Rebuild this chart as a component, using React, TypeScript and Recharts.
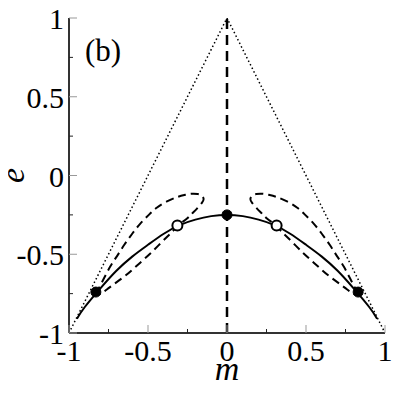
import { ComposedChart, Line, XAxis, YAxis } from "recharts";

// tick values (majors every 0.5, minors in between)
const axisTicks = [-1, -0.75, -0.5, -0.25, 0, 0.25, 0.5, 0.75, 1];

// dotted triangle
const triangleM = [-1, 0, 1];
const triangleE = [-1, 1, -1];

// dashed vertical at m = 0
const centerM = [0, 0];
const centerE = [-1, 1];

// solid curve
const solidM = [-0.95, -0.9, -0.8, -0.7, -0.6, -0.5, -0.4, -0.3, -0.2, -0.1, 0, 0.1, 0.2, 0.3, 0.4, 0.5, 0.6, 0.7, 0.8, 0.9, 0.95];
const solidE = [-0.91, -0.835, -0.715, -0.605, -0.515, -0.44, -0.37, -0.315, -0.28, -0.258, -0.25, -0.258, -0.28, -0.315, -0.37, -0.44, -0.515, -0.605, -0.715, -0.835, -0.91];

// dashed loops
const leftLoopM = [-0.83, -0.785, -0.74, -0.695, -0.65, -0.6, -0.55, -0.495, -0.445, -0.38, -0.318, -0.27, -0.225, -0.185, -0.158, -0.148, -0.158, -0.19, -0.225, -0.255, -0.3, -0.34, -0.382, -0.435, -0.487, -0.54, -0.593, -0.645, -0.698, -0.745, -0.783, -0.815];
const leftLoopE = [-0.75, -0.665, -0.58, -0.51, -0.44, -0.37, -0.307, -0.25, -0.205, -0.165, -0.138, -0.124, -0.116, -0.118, -0.13, -0.15, -0.172, -0.21, -0.245, -0.275, -0.31, -0.35, -0.392, -0.445, -0.497, -0.545, -0.593, -0.637, -0.677, -0.712, -0.741, -0.758];
const rightLoopM = [0.83, 0.785, 0.74, 0.695, 0.65, 0.6, 0.55, 0.495, 0.445, 0.38, 0.318, 0.27, 0.225, 0.185, 0.158, 0.148, 0.158, 0.19, 0.225, 0.255, 0.3, 0.34, 0.382, 0.435, 0.487, 0.54, 0.593, 0.645, 0.698, 0.745, 0.783, 0.815];
const rightLoopE = [-0.75, -0.665, -0.58, -0.51, -0.44, -0.37, -0.307, -0.25, -0.205, -0.165, -0.138, -0.124, -0.116, -0.118, -0.13, -0.15, -0.172, -0.21, -0.245, -0.275, -0.31, -0.35, -0.392, -0.445, -0.497, -0.545, -0.593, -0.637, -0.677, -0.712, -0.741, -0.758];

// markers
const filledM = [-0.83, 0, 0.83];
const filledE = [-0.74, -0.25, -0.74];
const openM = [-0.314, 0.314];
const openE = [-0.318, -0.318];

const toPoints = (ms: number[], es: number[]) => ms.map((m, i) => ({ m, e: es[i] }));

const FONT = "Times New Roman, Times, Liberation Serif, DejaVu Serif, Noto Serif, serif";
const FRAME = "#333";

const isMajor = (v: number) => Math.abs(v * 2 - Math.round(v * 2)) < 1e-9;
const tickLen = (v: number) => (isMajor(v) ? 8 : 4);
const tickColor = (v: number) => (isMajor(v) ? "#999" : "#222");

function BottomTick(props: any) {
  const { x, y, payload } = props;
  const v = payload.value;
  return (
    <g>
      <line x1={x} x2={x} y1={y} y2={y - tickLen(v)} stroke={tickColor(v)} strokeWidth={1} />
      {isMajor(v) && (
        <text x={x} y={y + 28} textAnchor="middle" fontFamily={FONT} fontSize={30} fill="#000">
          {String(v)}
        </text>
      )}
    </g>
  );
}

function TopTick(props: any) {
  const { x, y, payload } = props;
  const v = payload.value;
  return <line x1={x} x2={x} y1={y} y2={y + tickLen(v)} stroke={tickColor(v)} strokeWidth={1} />;
}

function LeftTick(props: any) {
  const { x, y, payload } = props;
  const v = payload.value;
  return (
    <g>
      <line x1={x} x2={x + tickLen(v)} y1={y} y2={y} stroke={tickColor(v)} strokeWidth={1} />
      {isMajor(v) && (
        <text x={x - 5} y={y + 11} textAnchor="end" fontFamily={FONT} fontSize={30} fill="#000">
          {String(v)}
        </text>
      )}
    </g>
  );
}

function RightTick(props: any) {
  const { x, y, payload } = props;
  const v = payload.value;
  return <line x1={x} x2={x - tickLen(v)} y1={y} y2={y} stroke={tickColor(v)} strokeWidth={1} />;
}

function XLabel(props: any) {
  const { x, y, width } = props.viewBox;
  return (
    <text x={x + width / 2} y={y + 47} textAnchor="middle" fontFamily={FONT} fontSize={34} fontStyle="italic" fill="#000">
      m
    </text>
  );
}

// y-axis title plus the "(b)" panel tag in the plot's top-left corner
function YLabel(props: any) {
  const { x, y, width, height } = props.viewBox;
  const cx = x + 24;
  const cy = y + height / 2;
  return (
    <g>
      <text x={cx} y={cy} transform={`rotate(-90 ${cx} ${cy})`} textAnchor="middle" fontFamily={FONT} fontSize={34} fontStyle="italic" fill="#000">
        e
      </text>
      <text x={x + width + 16} y={y + 43} fontFamily={FONT} fontSize={31} fill="#000">
        (b)
      </text>
    </g>
  );
}

export default function App() {
  return (
    <div style={{ margin: -8 }}>
      <ComposedChart width={407} height={405} margin={{ top: 18, right: 22, left: 0, bottom: 0 }}>
        <XAxis
          xAxisId="b"
          type="number"
          dataKey="m"
          domain={[-1, 1]}
          ticks={axisTicks}
          allowDataOverflow
          height={72}
          tickSize={0}
          tickMargin={0}
          tickLine={false}
          tick={(p: any) => <BottomTick {...p} />}
          axisLine={{ stroke: FRAME, strokeWidth: 2 }}
          label={(p: any) => <XLabel {...p} />}
        />
        <XAxis
          xAxisId="t"
          orientation="top"
          type="number"
          dataKey="m"
          domain={[-1, 1]}
          ticks={axisTicks}
          allowDataOverflow
          height={0}
          tickSize={0}
          tickMargin={0}
          tickLine={false}
          tick={(p: any) => <TopTick {...p} />}
          axisLine={{ stroke: FRAME, strokeWidth: 2 }}
        />
        <YAxis
          yAxisId="l"
          type="number"
          domain={[-1, 1]}
          ticks={axisTicks}
          allowDataOverflow
          width={69}
          tickSize={0}
          tickMargin={0}
          tickLine={false}
          tick={(p: any) => <LeftTick {...p} />}
          axisLine={{ stroke: FRAME, strokeWidth: 2 }}
          label={(p: any) => <YLabel {...p} />}
        />
        <YAxis
          yAxisId="r"
          orientation="right"
          type="number"
          domain={[-1, 1]}
          ticks={axisTicks}
          allowDataOverflow
          width={0}
          tickSize={0}
          tickMargin={0}
          tickLine={false}
          tick={(p: any) => <RightTick {...p} />}
          axisLine={{ stroke: FRAME, strokeWidth: 2 }}
        />

        <Line xAxisId="b" yAxisId="l" data={toPoints(triangleM, triangleE)} dataKey="e" type="linear" stroke="#000" strokeWidth={1.5} strokeDasharray="1.5 2.5" dot={false} activeDot={false} isAnimationActive={false} />
        <Line xAxisId="b" yAxisId="l" data={toPoints(centerM, centerE)} dataKey="e" type="linear" stroke="#000" strokeWidth={2.5} strokeDasharray="10 6" dot={false} activeDot={false} isAnimationActive={false} />
        <Line xAxisId="b" yAxisId="l" data={toPoints(leftLoopM, leftLoopE)} dataKey="e" type="natural" stroke="#000" strokeWidth={2} strokeDasharray="8 5" dot={false} activeDot={false} isAnimationActive={false} />
        <Line xAxisId="b" yAxisId="l" data={toPoints(rightLoopM, rightLoopE)} dataKey="e" type="natural" stroke="#000" strokeWidth={2} strokeDasharray="8 5" dot={false} activeDot={false} isAnimationActive={false} />
        <Line xAxisId="b" yAxisId="l" data={toPoints(solidM, solidE)} dataKey="e" type="natural" stroke="#000" strokeWidth={2} dot={false} activeDot={false} isAnimationActive={false} />
        <Line xAxisId="b" yAxisId="l" data={toPoints(filledM, filledE)} dataKey="e" stroke="none" dot={{ r: 5, fill: "#000", stroke: "#000", strokeWidth: 1 }} activeDot={false} isAnimationActive={false} />
        <Line xAxisId="b" yAxisId="l" data={toPoints(openM, openE)} dataKey="e" stroke="none" dot={{ r: 5, fill: "#fff", stroke: "#000", strokeWidth: 2 }} activeDot={false} isAnimationActive={false} />
      </ComposedChart>
    </div>
  );
}
